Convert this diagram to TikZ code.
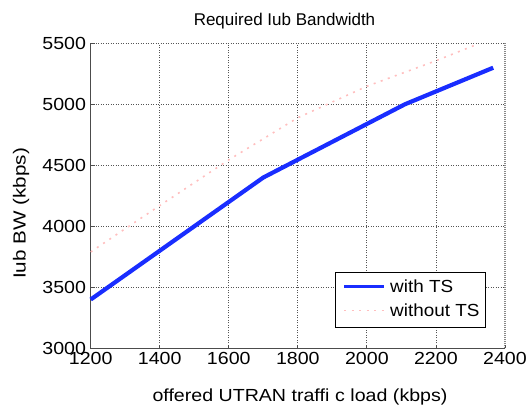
\documentclass[tikz,border=0pt]{standalone}
\usepackage{fontspec}
\setmainfont{Liberation Sans}
\definecolor{plotblue}{RGB}{25,45,255}
\definecolor{plotpink}{RGB}{255,190,190}
\definecolor{gridgray}{RGB}{85,85,85}
\newcommand{\wide}[2]{\scalebox{#1}[1]{#2}}
\begin{document}
\begin{tikzpicture}[x=1pt,y=1pt,
  lbl/.style={font=\fontsize{17.5}{20}\selectfont, inner sep=0pt},
  gridline/.style={gridgray, line width=0.8pt, dash pattern=on 1pt off 1.5pt},
  axisline/.style={gray!60!black, line width=1.2pt},
  withts/.style={plotblue, line width=4.2pt, line join=round},
  withoutts/.style={plotpink, line width=1.6pt, dash pattern=on 2pt off 5.5pt}
]
\useasboundingbox (0,0) rectangle (528,407);
% title
\node[lbl, font=\fontsize{17}{20}\selectfont, anchor=base] (title) at (284.5,381) {Required Iub Bandwidth};
% axis labels
\node[lbl, anchor=base] (xlabel) at (300,5) {\wide{1.12}{offered UTRAN traffi\kern0.3em c load (kbps)}};
\node[lbl, rotate=90, anchor=center] (ylabel) at (21,193.5) {\wide{1.18}{Iub BW (kbps)}};
\begin{scope}[shift={(-323.54,-307.3)}, x=0.3452pt, y=0.122pt]
  % grid
  \foreach \gx in {1400,1600,...,2200} {
    \draw[gridline] (\gx,3000) -- (\gx,5500);
  }
  \foreach \gy in {3500,4000,4500,5000} {
    \draw[gridline] (1200,\gy) -- (2400,\gy);
  }
  \draw[gridline] (1200,5500) -- (2400,5500);
  \draw[gridgray!70, line width=1.2pt, dash pattern=on 1pt off 1pt] (2400,3000) -- (2400,5500);
  % axes
  \draw[axisline] (1200,5500) -- (1200,3000) -- (2400,3000);
  % ticks
  \foreach \gx in {1200,1400,...,2400} {
    \draw[gray!60!black, line width=0.8pt] (\gx,3000) -- ++(0,30);
    \node[lbl, anchor=base] (xt\gx) at (\gx,3000) [yshift=-16pt] {\wide{1.12}{\gx}};
  }
  \foreach \gy in {3000,3500,...,5500} {
    \draw[gray!60!black, line width=0.8pt] (1200,\gy) -- ++(12,0);
    \node[lbl, anchor=east] (yt\gy) at (1200,\gy) [xshift=-4.5pt] {\wide{1.12}{\gy}};
  }
  % data
  \draw[withoutts] (1200,3790) -- (1400,4170) -- (1600,4545) -- (1800,4890)
     -- (2000,5148) -- (2200,5357) -- (2322,5495);
  \draw[withts] (1200,3400) -- (1700,4400) -- (2110,5000) -- (2366,5300);
\end{scope}
% legend
\node[draw=black, line width=0.9pt, fill=white, minimum width=150pt, minimum height=55.4pt,
  inner sep=0pt] (legend) at (410.7,107) {};
\coordinate (l1a) at (344,120.3);
\coordinate (l1b) at (384.3,120.3);
\coordinate (l2a) at (344,96.3);
\coordinate (l2b) at (384.3,96.3);
\draw[withts, line width=3.6pt] (l1a) -- (l1b);
\draw[withoutts] (l2a) -- (l2b);
\node[lbl, anchor=west] (t1) at (390,120.3) {\wide{1.08}{with TS}};
\node[lbl, anchor=west] (t2) at (390,96.3) {\wide{1.08}{without TS}};
\end{tikzpicture}
\end{document}
